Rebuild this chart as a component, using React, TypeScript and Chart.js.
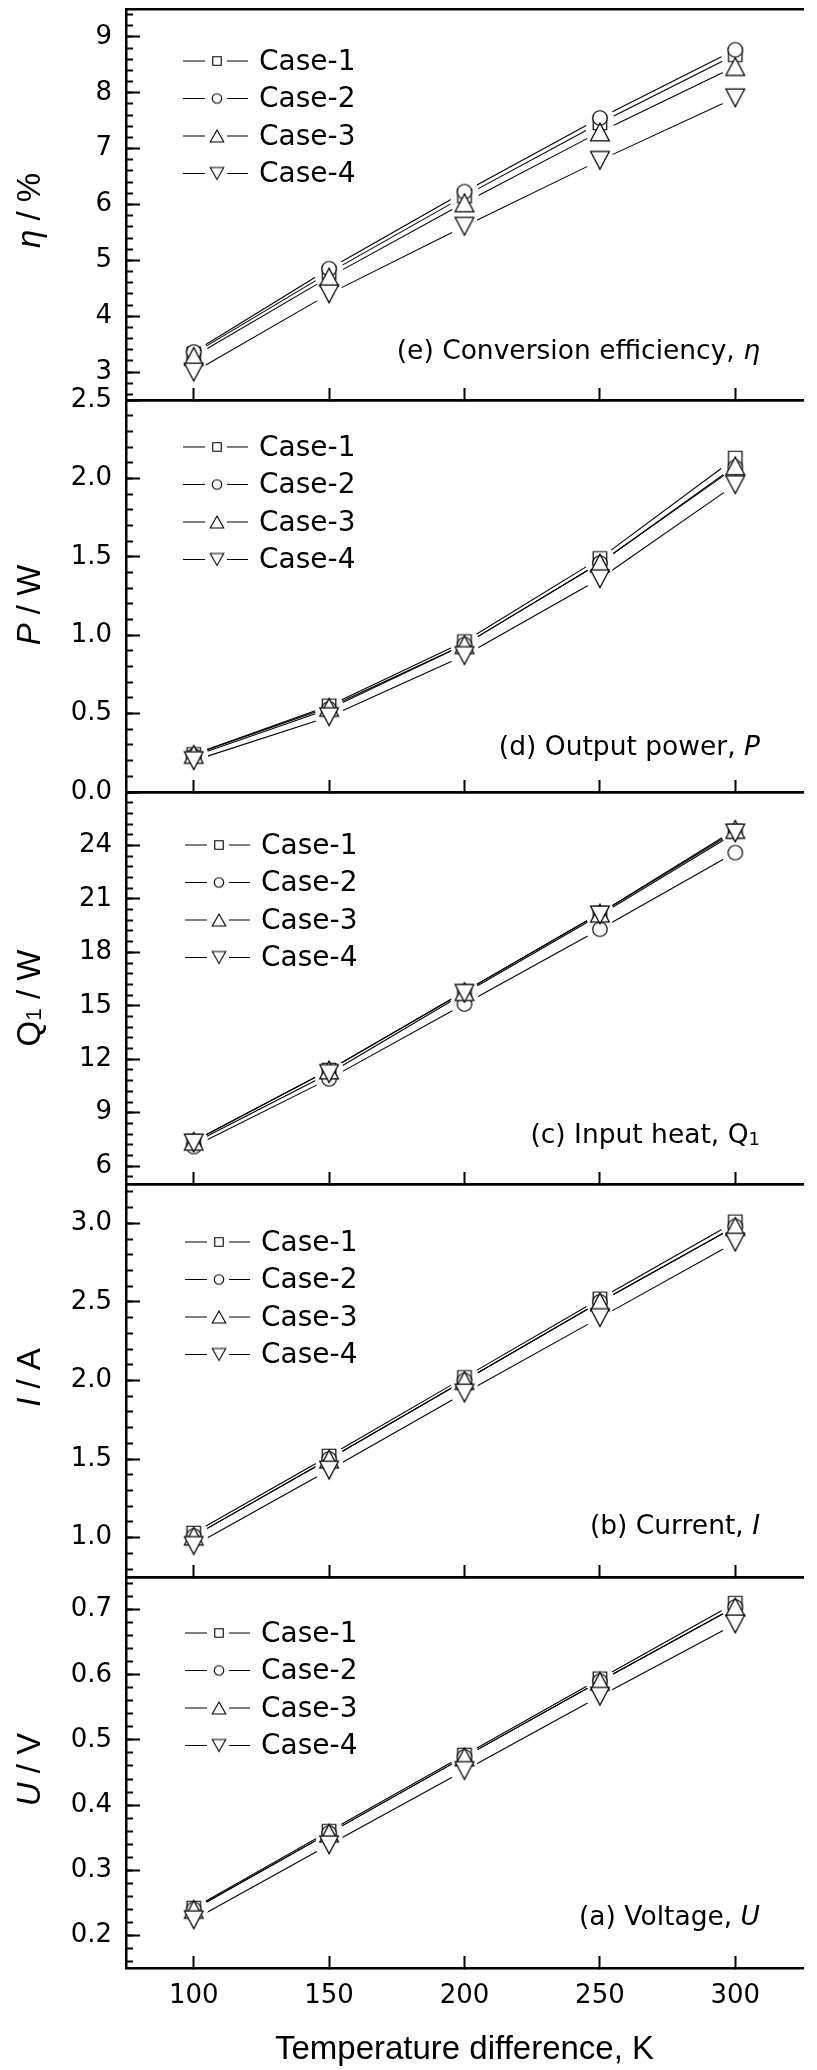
import React, { useEffect, useRef } from 'react';
import { Chart, registerables } from 'chart.js';

Chart.register(...registerables);

// ---------------- data ----------------
const temperatureDifference = [100, 150, 200, 250, 300];
const caseLabels = ['Case-1', 'Case-2', 'Case-3', 'Case-4'];

// (e) conversion efficiency, %
const efficiencyCase1 = [3.33, 4.78, 6.15, 7.46, 8.68];
const efficiencyCase2 = [3.36, 4.85, 6.23, 7.55, 8.77];
const efficiencyCase3 = [3.28, 4.70, 6.03, 7.30, 8.47];
const efficiencyCase4 = [3.0, 4.40, 5.61, 6.79, 7.91];

// (d) output power, W
const powerCase1 = [0.24, 0.55, 0.96, 1.49, 2.13];
const powerCase2 = [0.23, 0.53, 0.94, 1.46, 2.07];
const powerCase3 = [0.24, 0.54, 0.94, 1.46, 2.08];
const powerCase4 = [0.20, 0.48, 0.87, 1.36, 1.96];

// (c) input heat, W
const heatCase1 = [7.4, 11.4, 15.8, 20.2, 24.8];
const heatCase2 = [7.1, 10.9, 15.1, 19.3, 23.6];
const heatCase3 = [7.4, 11.4, 15.8, 20.2, 24.9];
const heatCase4 = [7.3, 11.2, 15.7, 20.1, 24.7];

// (b) current, A
const currentCase1 = [1.03, 1.52, 2.02, 2.52, 3.01];
const currentCase2 = [1.01, 1.50, 2.00, 2.50, 2.98];
const currentCase3 = [1.01, 1.50, 2.00, 2.50, 2.98];
const currentCase4 = [0.95, 1.43, 1.92, 2.40, 2.88];

// (a) voltage, V
const voltageCase1 = [0.242, 0.360, 0.477, 0.594, 0.710];
const voltageCase2 = [0.240, 0.357, 0.474, 0.590, 0.704];
const voltageCase3 = [0.240, 0.357, 0.474, 0.590, 0.704];
const voltageCase4 = [0.224, 0.339, 0.453, 0.567, 0.678];

// tick labels
const xTickValues = [100, 150, 200, 250, 300];
const efficiencyTicks = [3, 4, 5, 6, 7, 8, 9];
const powerTicks = [0, 0.5, 1.0, 1.5, 2.0, 2.5];
const heatTicks = [6, 9, 12, 15, 18, 21, 24];
const currentTicks = [1.0, 1.5, 2.0, 2.5, 3.0];
const voltageTicks = [0.2, 0.3, 0.4, 0.5, 0.6, 0.7];

// ---------------- styling / layout ----------------
const PAGE_W = 817;
const PAGE_H = 2070;
const PAD_T = 40;
const PAD_B = 40;
const Y_AXIS_W = 126;
const TICK_FAMILY = '"DejaVu Sans", sans-serif';
const TITLE_FAMILY = '"Liberation Sans", Arial, sans-serif';

Chart.defaults.font.family = TICK_FAMILY;
Chart.defaults.color = '#000';

type Run = { text: string; italic?: boolean; sub?: boolean };

interface PanelSpec {
  key: string;
  top: number;
  bottom: number;
  yMin: number;
  yMax: number;
  majorTicks: number[];
  minorStep: number;
  decimals: number;
  series: number[][];
  yTitle: Run[];
  note: Run[];
  legendDy: number;
  legendDx: number;
  titleDy: number;
  noteDy: number;
  showX: boolean;
}

const panels: PanelSpec[] = [
  {
    key: 'e', top: 9, bottom: 400, yMin: 2.5, yMax: 9.5,
    majorTicks: efficiencyTicks, minorStep: 0.2, decimals: 0,
    series: [efficiencyCase1, efficiencyCase2, efficiencyCase3, efficiencyCase4],
    yTitle: [{ text: 'η', italic: true }, { text: ' / %' }],
    note: [{ text: '(e) Conversion efficiency, ' }, { text: 'η', italic: true }],
    legendDy: 52, legendDx: 0, titleDy: 6, noteDy: -41, showX: false,
  },
  {
    key: 'd', top: 400, bottom: 792, yMin: 0, yMax: 2.5,
    majorTicks: powerTicks, minorStep: 0.1, decimals: 1,
    series: [powerCase1, powerCase2, powerCase3, powerCase4],
    yTitle: [{ text: 'P', italic: true }, { text: ' / W' }],
    note: [{ text: '(d) Output power, ' }, { text: 'P', italic: true }],
    legendDy: 47, legendDx: 0, titleDy: 9, noteDy: -37, showX: false,
  },
  {
    key: 'c', top: 792, bottom: 1184, yMin: 5, yMax: 27,
    majorTicks: heatTicks, minorStep: 0.6, decimals: 0,
    series: [heatCase1, heatCase2, heatCase3, heatCase4],
    yTitle: [{ text: 'Q' }, { text: '1', sub: true }, { text: ' / W' }],
    note: [{ text: '(c) Input heat, ' }, { text: 'Q' }, { text: '1', sub: true }],
    legendDy: 53, legendDx: 2, titleDy: 10, noteDy: -41, showX: false,
  },
  {
    key: 'b', top: 1184, bottom: 1577, yMin: 0.75, yMax: 3.25,
    majorTicks: currentTicks, minorStep: 0.1, decimals: 1,
    series: [currentCase1, currentCase2, currentCase3, currentCase4],
    yTitle: [{ text: 'I', italic: true }, { text: ' / A' }],
    note: [{ text: '(b) Current, ' }, { text: 'I', italic: true }],
    legendDy: 58, legendDx: 2, titleDy: -3, noteDy: -43, showX: false,
  },
  {
    key: 'a', top: 1577, bottom: 1968, yMin: 0.15, yMax: 0.75,
    majorTicks: voltageTicks, minorStep: 0.02, decimals: 1,
    series: [voltageCase1, voltageCase2, voltageCase3, voltageCase4],
    yTitle: [{ text: 'U', italic: true }, { text: ' / V' }],
    note: [{ text: '(a) Voltage, ' }, { text: 'U', italic: true }],
    legendDy: 56, legendDx: 2, titleDy: -3, noteDy: -43, showX: true,
  },
];

const shapes = ['square', 'circle', 'up', 'down'];
const plotMarkerSize: Record<string, [number, number]> = {
  square: [13.5, 13.5], circle: [14.5, 14.5], up: [18.8, 17.8], down: [18.8, 17.8],
};
const legendMarkerSize: Record<string, [number, number]> = {
  square: [8.5, 8.5], circle: [9.5, 9.5], up: [13.5, 12], down: [13.5, 12],
};

function makeMarker(shape: string, w: number, h: number, lw: number): HTMLCanvasElement {
  let cw = Math.ceil(w + lw * 2 + 2);
  let ch = Math.ceil(h + lw * 2 + 2);
  if (cw % 2) cw += 1;
  if (ch % 2) ch += 1;
  const c = document.createElement('canvas');
  c.width = cw;
  c.height = ch;
  const g = c.getContext('2d') as CanvasRenderingContext2D;
  const cx = cw / 2;
  const cy = ch / 2;
  g.lineWidth = lw;
  g.strokeStyle = '#000';
  g.fillStyle = '#fff';
  g.lineJoin = 'miter';
  g.beginPath();
  if (shape === 'square') {
    g.rect(cx - w / 2, cy - h / 2, w, h);
  } else if (shape === 'circle') {
    g.ellipse(cx, cy, w / 2, h / 2, 0, 0, Math.PI * 2);
  } else if (shape === 'up') {
    g.moveTo(cx, cy - h / 2);
    g.lineTo(cx + w / 2, cy + h / 2);
    g.lineTo(cx - w / 2, cy + h / 2);
    g.closePath();
  } else {
    g.moveTo(cx - w / 2, cy - h / 2);
    g.lineTo(cx + w / 2, cy - h / 2);
    g.lineTo(cx, cy + h / 2);
    g.closePath();
  }
  g.fill();
  g.stroke();
  return c;
}

function minorValues(min: number, max: number, step: number): number[] {
  const out: number[] = [];
  const k0 = Math.ceil(min / step - 1e-9);
  const k1 = Math.floor(max / step + 1e-9);
  for (let k = k0; k <= k1; k++) out.push(Number((k * step).toFixed(6)));
  return out;
}

function runFont(r: Run, size: number, family: string): string {
  const s = r.sub ? size * 0.68 : size;
  return `${r.italic ? 'italic ' : ''}${s}px ${family}`;
}

function drawRuns(
  ctx: CanvasRenderingContext2D, runs: Run[], x: number, y: number,
  size: number, family: string, align: 'left' | 'right' | 'center',
) {
  ctx.textAlign = 'left';
  ctx.textBaseline = 'alphabetic';
  ctx.fillStyle = '#000';
  const widths = runs.map((r) => {
    ctx.font = runFont(r, size, family);
    return ctx.measureText(r.text).width;
  });
  const total = widths.reduce((a, b) => a + b, 0);
  let cx = align === 'left' ? x : align === 'right' ? x - total : x - total / 2;
  runs.forEach((r, i) => {
    ctx.font = runFont(r, size, family);
    ctx.fillText(r.text, cx, y + (r.sub ? size * 0.06 : 0));
    cx += widths[i];
  });
}

function makeOverlay(spec: PanelSpec, legendMarkers: HTMLCanvasElement[]) {
  return {
    id: 'overlay_' + spec.key,
    afterDraw(chart: any) {
      const ctx: CanvasRenderingContext2D = chart.ctx;
      const area = chart.chartArea;
      ctx.save();
      // legend
      const lx = area.left + spec.legendDx;
      caseLabels.forEach((lab, i) => {
        const y = area.top + spec.legendDy + i * 37.5;
        ctx.strokeStyle = '#000';
        ctx.lineWidth = 1.2;
        ctx.beginPath();
        ctx.moveTo(lx + 57, y);
        ctx.lineTo(lx + 79, y);
        ctx.moveTo(lx + 101, y);
        ctx.lineTo(lx + 122, y);
        ctx.stroke();
        const img = legendMarkers[i];
        ctx.drawImage(img, lx + 91 - img.width / 2, y - img.height / 2);
        ctx.font = `28px ${TICK_FAMILY}`;
        ctx.fillStyle = '#000';
        ctx.textAlign = 'left';
        ctx.textBaseline = 'alphabetic';
        ctx.fillText(lab, lx + 133, y + 8.5);
      });
      // panel note
      drawRuns(ctx, spec.note, 760, area.bottom + spec.noteDy, 26.5, TICK_FAMILY, 'right');
      // y title
      ctx.save();
      ctx.translate(39.5, (area.top + area.bottom) / 2 + spec.titleDy);
      ctx.rotate(-Math.PI / 2);
      drawRuns(ctx, spec.yTitle, 0, 0, 33, TITLE_FAMILY, 'center');
      ctx.restore();
      ctx.restore();
    },
  };
}

function buildConfig(spec: PanelSpec, padB: number): any {
  const pts = (vals: number[]) => temperatureDifference.map((x, i) => ({ x, y: vals[i] }));
  const plotMarkers = shapes.map((s) => makeMarker(s, plotMarkerSize[s][0], plotMarkerSize[s][1], 1.2));
  const legendMarkers = shapes.map((s) => makeMarker(s, legendMarkerSize[s][0], legendMarkerSize[s][1], 1.1));

  const lineSets = spec.series.map((vals, i) => ({
    label: caseLabels[i], data: pts(vals), xAxisID: 'x', yAxisID: 'y',
    showLine: true, borderColor: '#000', borderWidth: 1.1, pointRadius: 0, pointHoverRadius: 0,
    order: 3,
  }));
  const gapSets = spec.series.map((vals, i) => ({
    label: caseLabels[i] + ' gap', data: pts(vals), xAxisID: 'x', yAxisID: 'y',
    showLine: false, pointStyle: 'circle', pointRadius: 14, pointHoverRadius: 14,
    pointBackgroundColor: '#ffffff', pointBorderColor: '#ffffff', pointBorderWidth: 0,
    order: 2,
  }));
  const markerSets = spec.series.map((vals, i) => ({
    label: caseLabels[i], data: pts(vals), xAxisID: 'x', yAxisID: 'y',
    showLine: false, pointStyle: plotMarkers[i], pointRadius: 8, pointHoverRadius: 8,
    order: 1.3 - i * 0.1,
  }));

  return {
    type: 'scatter',
    data: { datasets: [...lineSets, ...gapSets, ...markerSets] },
    options: {
      responsive: true,
      maintainAspectRatio: false,
      animation: false,
      events: [],
      layout: { padding: { top: PAD_T, left: 0, right: 0, bottom: 0 } },
      plugins: { legend: { display: false }, tooltip: { enabled: false }, title: { display: false } },
      scales: {
        x: {
          type: 'linear', axis: 'x', position: 'bottom', min: 75, max: 325, bounds: 'data',
          afterBuildTicks: (s: any) => { s.ticks = xTickValues.map((v) => ({ value: v })); },
          afterFit: (s: any) => { s.height = padB; s.paddingLeft = 0; s.paddingRight = 0; },
          grid: { display: true, drawOnChartArea: false, drawTicks: true, tickLength: -12, tickWidth: 2, tickColor: '#000' },
          border: { display: true, color: '#000', width: 2.5 },
          ticks: {
            display: spec.showX, font: { family: TICK_FAMILY, size: 26 }, color: '#000',
            padding: 25, maxRotation: 0, autoSkip: false, callback: (v: any) => String(v),
          },
          title: {
            display: spec.showX, text: 'Temperature difference, K',
            font: { family: TITLE_FAMILY, size: 33 }, color: '#000', padding: { top: 0, bottom: 0 },
          },
        },
        xTop: {
          type: 'linear', axis: 'x', position: 'top', min: 75, max: 325, bounds: 'data',
          afterFit: (s: any) => { s.height = 0; s.paddingLeft = 0; s.paddingRight = 0; },
          grid: { display: false, drawTicks: false },
          border: { display: true, color: '#000', width: 2.5 },
          ticks: { display: false },
        },
        y: {
          type: 'linear', axis: 'y', position: 'left', min: spec.yMin, max: spec.yMax, bounds: 'data', weight: 1,
          afterBuildTicks: (s: any) => { s.ticks = spec.majorTicks.map((v) => ({ value: v })); },
          afterFit: (s: any) => { s.width = Y_AXIS_W; s.paddingTop = 0; s.paddingBottom = 0; },
          grid: { display: true, drawOnChartArea: false, drawTicks: true, tickLength: -14, tickWidth: 2, tickColor: '#000' },
          border: { display: true, color: '#000', width: 2.5 },
          ticks: {
            font: { family: TICK_FAMILY, size: 26 }, color: '#000', padding: 28, autoSkip: false,
            callback: (v: any) => Number(v).toFixed(spec.decimals),
          },
        },
        yMinor: {
          type: 'linear', axis: 'y', position: 'left', min: spec.yMin, max: spec.yMax, bounds: 'data', weight: 0,
          afterBuildTicks: (s: any) => {
            s.ticks = minorValues(spec.yMin, spec.yMax, spec.minorStep).map((v) => ({ value: v }));
          },
          afterFit: (s: any) => { s.width = 0; s.paddingTop = 0; s.paddingBottom = 0; },
          grid: { display: true, drawOnChartArea: false, drawTicks: true, tickLength: -7, tickWidth: 2, tickColor: '#000' },
          border: { display: false },
          ticks: { display: false, autoSkip: false },
        },
      },
    },
    plugins: [makeOverlay(spec, legendMarkers)],
  };
}

function PanelChart({ spec }: { spec: PanelSpec }) {
  const ref = useRef<HTMLCanvasElement | null>(null);
  const padB = spec.showX ? PAGE_H - spec.bottom : PAD_B;
  const height = spec.bottom - spec.top + PAD_T + padB;
  useEffect(() => {
    if (!ref.current) return;
    const chart = new Chart(ref.current, buildConfig(spec, padB));
    return () => chart.destroy();
  }, []);
  return (
    <div style={{ position: 'absolute', left: 0, top: spec.top - PAD_T, width: PAGE_W, height }}>
      <canvas ref={ref} />
    </div>
  );
}

export default function App() {
  return (
    <div
      style={{
        position: 'absolute', left: 0, top: 0, width: PAGE_W, height: PAGE_H,
        overflow: 'hidden', background: '#fff',
      }}
    >
      {panels.map((p) => (
        <PanelChart key={p.key} spec={p} />
      ))}
    </div>
  );
}
